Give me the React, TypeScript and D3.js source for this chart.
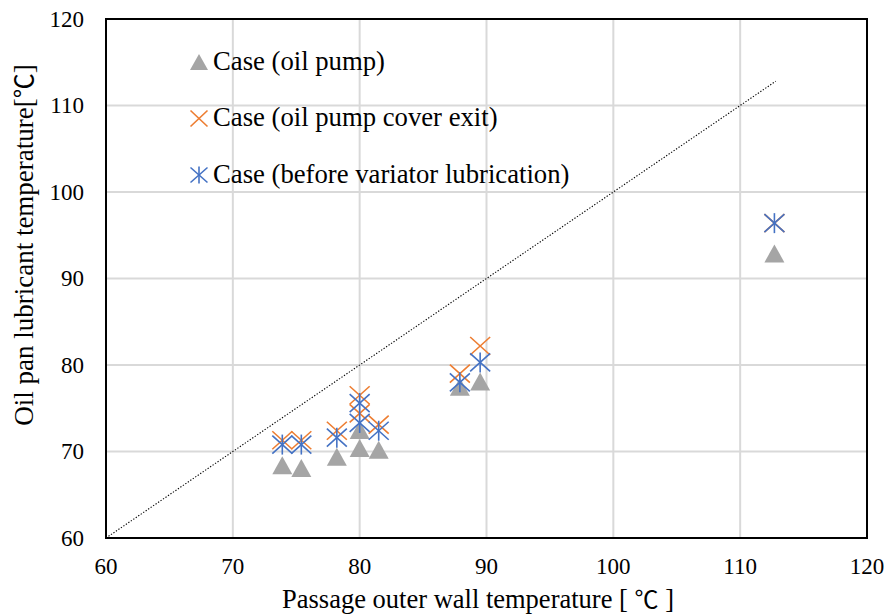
import React from "react";
import * as d3 from "d3";

const xTicks = [60, 70, 80, 90, 100, 110, 120];
const yTicks = [60, 70, 80, 90, 100, 110, 120];
const xValues = [73.9, 75.4, 78.2, 80.0, 80.0, 81.5, 87.9, 89.5, 112.7];
const oilPump = [68.4, 68.1, 69.4, 72.5, 70.4, 70.2, 77.5, 78.1, 92.9];
const coverExit = [71.3, 71.3, 72.4, 76.5, 74.4, 73.1, 79.0, 82.2, 96.4];
const beforeVariator = [70.8, 70.8, 71.6, 75.6, 73.3, 72.4, 78.0, 80.3, 96.4];
const diagonal = [60, 112.8];
const legendLabels = [
  "Case (oil pump)",
  "Case (oil pump cover exit)",
  "Case (before variator lubrication)",
];
const xTitleParts = ["Passage outer wall temperature [ ", "℃", " ]"];
const yTitleParts = ["Oil pan lubricant temperature[", "℃", "]"];

const W = 886;
const H = 615;
const FONT = "'Liberation Serif', 'Times New Roman', serif";
const CJK = "'Noto Sans CJK JP', 'Noto Sans CJK SC', sans-serif";
const GRAY = "#a5a5a5";
const ORANGE = "#ed7d31";
const BLUE = "#4472c4";

const x = d3.scaleLinear().domain([60, 120]).range([106, 867]);
const y = d3.scaleLinear().domain([60, 120]).range([538, 19]);

function Triangle({ cx, cy, w = 20, h = 18 }: { cx: number; cy: number; w?: number; h?: number }) {
  const p = d3.path();
  p.moveTo(cx, cy - h / 2);
  p.lineTo(cx + w / 2, cy + h / 2);
  p.lineTo(cx - w / 2, cy + h / 2);
  p.closePath();
  return <path d={p.toString()} fill={GRAY} />;
}

function Cross({ cx, cy, w = 20, h = 18, color }: { cx: number; cy: number; w?: number; h?: number; color: string }) {
  return (
    <g stroke={color} strokeWidth={1.6} fill="none">
      <line x1={cx - w / 2} y1={cy - h / 2} x2={cx + w / 2} y2={cy + h / 2} />
      <line x1={cx - w / 2} y1={cy + h / 2} x2={cx + w / 2} y2={cy - h / 2} />
    </g>
  );
}

function Star({ cx, cy, w = 20, h = 18, color }: { cx: number; cy: number; w?: number; h?: number; color: string }) {
  return (
    <g stroke={color} strokeWidth={1.6} fill="none">
      <line x1={cx - w / 2} y1={cy - h / 2} x2={cx + w / 2} y2={cy + h / 2} />
      <line x1={cx - w / 2} y1={cy + h / 2} x2={cx + w / 2} y2={cy - h / 2} />
      <line x1={cx} y1={cy - h / 2 - 1} x2={cx} y2={cy + h / 2 + 1} />
    </g>
  );
}

export default function App() {
  const [x0, x1] = x.range();
  const [y0, y1] = y.range();
  const diagLine = d3
    .line<number>()
    .x((d) => x(d))
    .y((d) => y(d))(diagonal) as string;

  const legendY = [62, 118.5, 175];
  const legendX = 199;

  return (
    <svg
      width={W}
      height={H}
      viewBox={`0 0 ${W} ${H}`}
      style={{ position: "absolute", left: 0, top: 0, background: "#fff" }}
      fontFamily={FONT}
    >
      <rect x={0} y={0} width={W} height={H} fill="#fff" />
      {/* grid */}
      <g stroke="#d9d9d9" strokeWidth={2}>
        {xTicks.slice(1, -1).map((t) => (
          <line key={"gx" + t} x1={x(t)} x2={x(t)} y1={y1} y2={y0} />
        ))}
        {yTicks.slice(1, -1).map((t) => (
          <line key={"gy" + t} x1={x0} x2={x1} y1={y(t)} y2={y(t)} />
        ))}
      </g>

      {/* diagonal */}
      <path d={diagLine} stroke="#000" strokeWidth={1.1} strokeDasharray="1.3 1.7" fill="none" />

      {/* series */}
      {xValues.map((v, i) => (
        <Triangle key={"t" + i} cx={x(v)} cy={y(oilPump[i])} />
      ))}
      {xValues.map((v, i) => (
        <Cross key={"c" + i} cx={x(v)} cy={y(coverExit[i])} color={ORANGE} />
      ))}
      {xValues.map((v, i) => (
        <Star key={"s" + i} cx={x(v)} cy={y(beforeVariator[i])} color={BLUE} />
      ))}

      {/* frame */}
      <rect x={x0} y={y1} width={x1 - x0} height={y0 - y1} fill="none" stroke="#000" strokeWidth={2} />

      {/* ticks */}
      <g fontSize={23} fill="#000">
        {xTicks.map((t) => (
          <text key={"xt" + t} x={x(t)} y={574} textAnchor="middle">
            {t}
          </text>
        ))}
        {yTicks.map((t) => (
          <text key={"yt" + t} x={84} y={y(t)} textAnchor="end" dominantBaseline="central">
            {t}
          </text>
        ))}
      </g>

      {/* axis titles */}
      <text x={478} y={608} textAnchor="middle" fontSize={26.5} fill="#000">
        {xTitleParts[0]}
        <tspan fontFamily={CJK} fontSize={24}>{xTitleParts[1]}</tspan>
        {xTitleParts[2]}
      </text>
      <text
        transform={`translate(33, 245) rotate(-90)`}
        textAnchor="middle"
        fontSize={27}
        fill="#000"
      >
        {yTitleParts[0]}
        <tspan fontFamily={CJK} fontSize={25}>{yTitleParts[1]}</tspan>
        {yTitleParts[2]}
      </text>

      {/* legend */}
      <Triangle cx={legendX} cy={legendY[0]} w={18} h={16} />
      <Cross cx={legendX} cy={legendY[1]} w={17} h={16} color={ORANGE} />
      <Star cx={legendX} cy={legendY[2]} w={17} h={15} color={BLUE} />
      <g fontSize={26.7} fill="#000">
        {legendLabels.map((l, i) => (
          <text key={l} x={213} y={legendY[i] + 7.5}>
            {l}
          </text>
        ))}
      </g>
    </svg>
  );
}
